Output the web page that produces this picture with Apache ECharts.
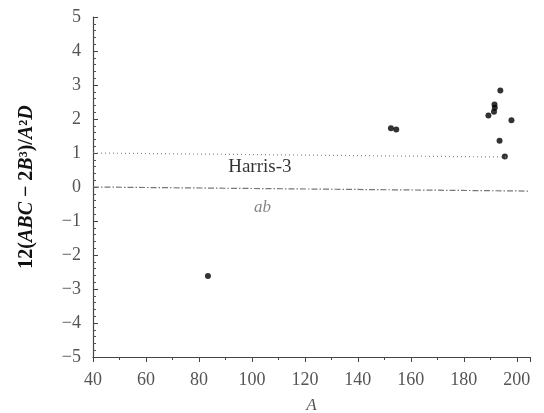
<!DOCTYPE html>
<html><head><meta charset="utf-8">
<script src="https://cdn.jsdelivr.net/npm/echarts@6/dist/echarts.min.js"></script>
<style>html,body{margin:0;padding:0;background:#fff}#c{width:544px;height:413px}</style>
</head><body><div id="c"></div>
<script>
var xTicks = [40, 60, 80, 100, 120, 140, 160, 180, 200];
var yTicks = [-5, -4, -3, -2, -1, 0, 1, 2, 3, 4, 5];
var pointsA = [83.4, 152.5, 154.5, 193.8, 191.6, 191.7, 191.4, 189.3, 198.0, 193.5, 195.5];
var pointsY = [-2.62, 1.73, 1.69, 2.84, 2.43, 2.33, 2.21, 2.10, 1.96, 1.36, 0.90];
var harrisA = [40, 197];
var harrisY = [1.0, 0.88];
var abA = [40, 205];
var abY = [0.0, -0.12];
var labelNames = ['Harris-3', 'ab'];
var labelA = [103, 104];
var labelY = [0.58, -0.6];

var serif = '"Liberation Serif", "DejaVu Serif", serif';
function pairs(xs, ys){ return xs.map(function(x,i){return [x, ys[i]];}); }

var chart = echarts.init(document.getElementById('c'));
chart.setOption({
  animation: false,
  grid: {left: 93, right: 14, top: 17, bottom: 56, containLabel: false, outerBoundsMode: 'none'},
  xAxis: {
    type: 'value', min: xTicks[0], max: 205, interval: 20,
    name: 'A', nameLocation: 'middle', nameGap: 40,
    nameTextStyle: {fontFamily: serif, fontStyle: 'italic', fontSize: 17, color: '#555'},
    axisLine: {onZero: false, lineStyle: {color: '#444', width: 1.2}},
    axisTick: {show: true, inside: false, length: 5, lineStyle: {color: '#444'}},
    minorTick: {show: true, splitNumber: 2, length: 3, lineStyle: {color: '#444'}},
    axisLabel: {fontFamily: serif, fontSize: 18, color: '#555', margin: 14,
      showMaxLabel: false,
      formatter: function(v){ return xTicks.indexOf(v) >= 0 ? String(v) : ''; }},
    splitLine: {show: false}
  },
  yAxis: {
    type: 'value', min: yTicks[0], max: yTicks[yTicks.length-1], interval: 1,
    name: '{n|12(}{i|ABC}{n| − 2}{i|B}{n|³)/}{i|A}{n|²}{i|D}',
    nameLocation: 'middle', nameGap: 56, nameRotate: 90,
    nameTextStyle: {
      fontFamily: serif, fontSize: 20, color: '#111',
      rich: {
        n: {fontFamily: serif, fontSize: 20, fontWeight: 'bold', color: '#111'},
        i: {fontFamily: serif, fontSize: 20, fontWeight: 'bold', fontStyle: 'italic', color: '#111'}
      }
    },
    axisLine: {show: true, onZero: false, lineStyle: {color: '#444', width: 1.2}},
    axisTick: {show: true, inside: true, length: 5, lineStyle: {color: '#444'}},
    minorTick: {show: true, splitNumber: 5, length: 3, lineStyle: {color: '#555'}},
    axisLabel: {fontFamily: serif, fontSize: 18, color: '#555', margin: 12,
      formatter: function(v){ return String(v).replace('-', '−'); }},
    splitLine: {show: false}
  },
  series: [
    {
      type: 'line', data: pairs(harrisA, harrisY), symbol: 'none', silent: true,
      lineStyle: {color: '#888', width: 1.2, type: [1, 3]}
    },
    {
      type: 'line', data: pairs(abA, abY), symbol: 'none', silent: true,
      lineStyle: {color: '#777', width: 1.2, type: [6, 2, 1.5, 2]}
    },
    {
      type: 'scatter', data: pairs(pointsA, pointsY), symbol: 'circle', symbolSize: 6,
      itemStyle: {color: '#000'}
    },
    {
      type: 'scatter', symbolSize: 0, silent: true,
      data: labelNames.map(function(n, i){
        return {
          value: [labelA[i], labelY[i]], name: n,
          label: {
            show: true, position: 'inside', formatter: n,
            fontFamily: serif, fontSize: i === 0 ? 19 : 17,
            fontStyle: i === 0 ? 'normal' : 'italic',
            color: i === 0 ? '#000' : '#666'
          }
        };
      })
    }
  ]
});
</script>
</body></html>
